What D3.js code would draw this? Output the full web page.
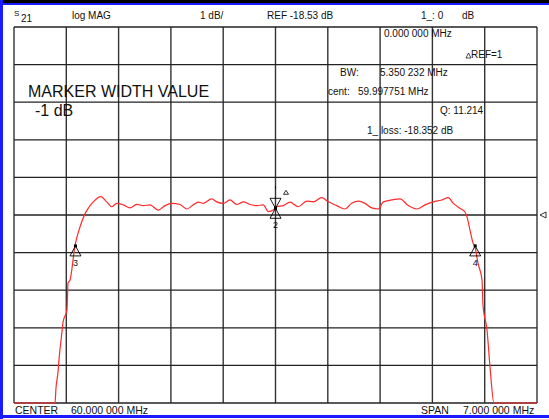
<!DOCTYPE html>
<html>
<head>
<meta charset="utf-8">
<script src="https://cdn.jsdelivr.net/npm/d3@7"></script>
<style>
  body { margin: 0; background: #fff; }
  svg text { font-family: "Liberation Sans", Arial, sans-serif; fill: #111; }
</style>
</head>
<body>
<svg id="chart" width="549" height="419"></svg>
<script>
// analyser settings
const centerMHz = 60.0;
const spanMHz = 7.0;
const refDb = -18.53;
const dbPerDiv = 1;

// trace: [MHz, dB]
const traceFreq = [
  56.500, 57.049, 57.062, 57.089, 57.102, 57.142, 57.156, 57.209, 57.223, 57.250,
  57.316, 57.383, 57.450, 57.494, 57.561, 57.660, 57.741, 57.808, 57.875, 57.963,
  58.053, 58.142, 58.231, 58.320, 58.431, 58.521, 58.611, 58.722, 58.811, 58.900,
  58.967, 59.034, 59.146, 59.213, 59.301, 59.391, 59.481, 59.569, 59.659, 59.748,
  59.837, 59.904, 59.970, 60.016, 60.104, 60.194, 60.305, 60.418, 60.506, 60.618,
  60.707, 60.819, 60.930, 61.020, 61.108, 61.198, 61.287, 61.376, 61.443, 61.555,
  61.666, 61.777, 61.890, 62.001, 62.112, 62.224, 62.313, 62.380, 62.469, 62.536,
  62.563, 62.603, 62.643, 62.670, 62.710, 62.764, 62.777, 62.831, 62.871, 62.924,
  63.500
];
const traceDb = [
  -23.53, -23.53, -23.13, -22.71, -22.39, -21.64, -21.38, -21.06, -20.34, -20.26,
  -19.35, -18.85, -18.50, -18.35, -18.18, -18.04, -18.18, -18.31, -18.22, -18.26,
  -18.34, -18.25, -18.28, -18.26, -18.40, -18.28, -18.22, -18.25, -18.37, -18.26,
  -18.19, -18.22, -18.10, -18.18, -18.22, -18.13, -18.25, -18.18, -18.25, -18.28,
  -18.26, -18.44, -18.40, -18.31, -18.28, -18.19, -18.31, -18.16, -18.18, -18.07,
  -18.18, -18.28, -18.37, -18.22, -18.16, -18.22, -18.34, -18.37, -18.18, -18.13,
  -18.10, -18.28, -18.37, -18.26, -18.18, -18.13, -18.07, -18.22, -18.35, -18.45,
  -18.58, -18.93, -19.27, -19.38, -19.81, -20.26, -20.92, -21.59, -22.57, -23.53,
  -23.53
];

// markers
const markerNames = ['1', '2', '3', '4'];
const markerFreq = [60.000, 60.000, 57.3226, 62.6729];
const markerDb = [-18.352, -18.352, -19.352, -19.352];

// screen annotations
const headerTexts = [
  { t: 'log MAG', x: 72, y: 19 },
  { t: '1 dB/', x: 200, y: 19 },
  { t: 'REF -18.53 dB', x: 267, y: 19 },
  { t: '1_: 0', x: 421, y: 19 },
  { t: 'dB', x: 462, y: 19 }
];
const readoutTexts = [
  { t: '0.000 000 MHz', x: 384, y: 37 },
  { t: 'REF=1', x: 471, y: 58 },
  { t: 'BW:', x: 340, y: 76 },
  { t: '5.350 232 MHz', x: 380, y: 76 },
  { t: 'cent:', x: 328, y: 95 },
  { t: '59.997751 MHz', x: 358, y: 95 },
  { t: 'Q: 11.214', x: 440, y: 114 },
  { t: '1_ loss: -18.352 dB', x: 367, y: 134 }
];
const footerTexts = [
  { t: 'CENTER', x: 15, y: 414 },
  { t: '60.000 000 MHz', x: 71, y: 414 },
  { t: 'SPAN', x: 421, y: 414 },
  { t: '7.000 000 MHz', x: 463, y: 414 }
];

const svg = d3.select('#chart');
const gLeft = 14, gRight = 537, gTop = 27, gBottom = 403;

const x = d3.scaleLinear()
  .domain([centerMHz - spanMHz / 2, centerMHz + spanMHz / 2])
  .range([gLeft, gRight]);
const y = d3.scaleLinear()
  .domain([refDb - 5 * dbPerDiv, refDb + 5 * dbPerDiv])
  .range([gBottom, gTop]);

// frame
svg.append('rect').attr('x', 0).attr('y', 0).attr('width', 549).attr('height', 3).attr('fill', '#000');
svg.append('rect').attr('x', 0).attr('y', 3).attr('width', 549).attr('height', 2).attr('fill', '#1a1aff');
svg.append('rect').attr('x', 0).attr('y', 0).attr('width', 3).attr('height', 419).attr('fill', '#1a1aff');
svg.append('rect').attr('x', 0).attr('y', 415).attr('width', 549).attr('height', 3).attr('fill', '#1a1aff');

// grid
const xDivs = d3.range(0, 11).map(i => x.domain()[0] + i * spanMHz / 10);
const yDivs = d3.range(0, 11).map(i => y.domain()[0] + i * dbPerDiv);

svg.append('g').selectAll('line').data(xDivs).join('line')
  .attr('x1', d => x(d)).attr('x2', d => x(d))
  .attr('y1', gTop).attr('y2', gBottom)
  .attr('stroke', '#333').attr('stroke-width', 1.4);

svg.append('g').selectAll('line').data(yDivs).join('line')
  .attr('x1', gLeft).attr('x2', gRight)
  .attr('y1', d => y(d)).attr('y2', d => y(d))
  .attr('stroke', '#222').attr('stroke-width', 1.3);

// reference level pointer on the right
svg.append('path')
  .attr('d', `M${gRight + 3},${y(refDb)} l6,-3 v6 z`)
  .attr('fill', '#fff').attr('stroke', '#000').attr('stroke-width', 0.8);

// trace
const trace = traceFreq.map((f, i) => [f, traceDb[i]]);
svg.append('path')
  .datum(trace)
  .attr('fill', 'none')
  .attr('stroke', '#ff2a2a')
  .attr('stroke-width', 1.2)
  .attr('d', d3.line().curve(d3.curveMonotoneX).x(d => x(d[0])).y(d => y(d[1])));

// markers
const markers = markerNames.map((n, i) => ({ name: n, f: markerFreq[i], db: markerDb[i] }));
markers.forEach(m => {
  const mx = x(m.f), my = y(m.db);
  const g = svg.append('g');
  if (m.name === '1') {
    g.append('path').attr('d', `M${mx},${my} l-5.5,-10 h11 z`)
      .attr('fill', 'none').attr('stroke', '#000').attr('stroke-width', 0.9);
    g.append('path').attr('d', `M${mx + 8},${my - 14} l2.5,-4 l2.5,4 z`)
      .attr('fill', 'none').attr('stroke', '#000').attr('stroke-width', 0.8);
    g.append('line').attr('x1', mx).attr('x2', mx).attr('y1', my - 22).attr('y2', my - 20)
      .attr('stroke', '#000');
  } else {
    g.append('path').attr('d', `M${mx},${my} l-5.5,10 h11 z`)
      .attr('fill', 'none').attr('stroke', '#000').attr('stroke-width', 0.9);
    g.append('text').attr('x', mx - 2.5).attr('y', my + 20)
      .style('font-size', '9px').text(m.name);
  }
  g.append('rect').attr('x', mx - 1.5).attr('y', my - 1.5).attr('width', 3).attr('height', 3)
    .attr('fill', '#000');
});

// header
const hdr = svg.append('g').style('font-size', '10px');
hdr.append('text').attr('x', 14).attr('y', 16).style('font-size', '8px').text('S');
hdr.append('text').attr('x', 21).attr('y', 22).text('21');
hdr.selectAll('text.h').data(headerTexts).join('text').classed('h', true)
  .attr('x', d => d.x).attr('y', d => d.y).text(d => d.t);

// readouts
const ro = svg.append('g').style('font-size', '10px');
ro.selectAll('text').data(readoutTexts).join('text')
  .attr('x', d => d.x).attr('y', d => d.y).text(d => d.t);
ro.append('path').attr('d', 'M466,58 l2.5,-5 l2.5,5 z')
  .attr('fill', 'none').attr('stroke', '#000').attr('stroke-width', 0.7);

// big label
svg.append('text').attr('x', 28).attr('y', 97).style('font-size', '16px').text('MARKER WIDTH VALUE');
svg.append('text').attr('x', 35).attr('y', 116).style('font-size', '16px').text('-1 dB');

// footer
svg.append('g').style('font-size', '10.5px')
  .selectAll('text').data(footerTexts).join('text')
  .attr('x', d => d.x).attr('y', d => d.y).text(d => d.t);
</script>
</body>
</html>
